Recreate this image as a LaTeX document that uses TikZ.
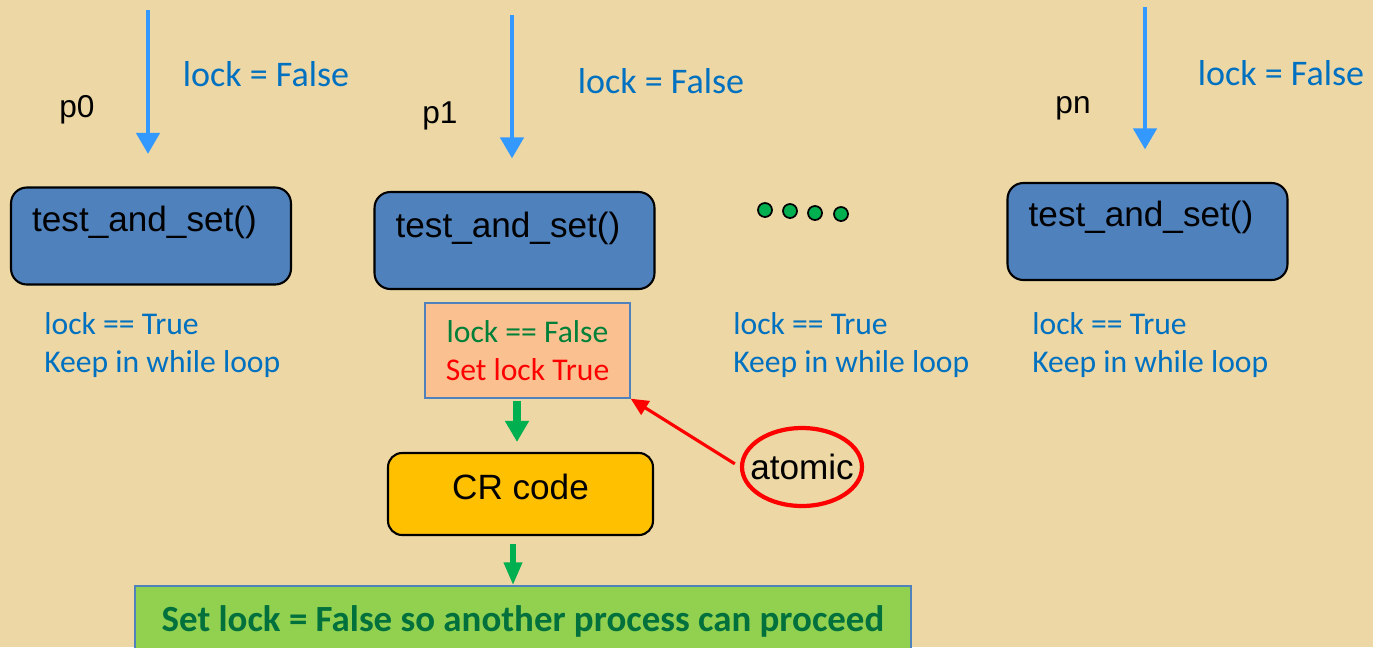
\documentclass[tikz,border=0pt]{standalone}
\usepackage{fontspec}
\setmainfont{Liberation Sans}
\newfontfamily\calib{Carlito}
\usetikzlibrary{arrows.meta,shapes.geometric,positioning}

\definecolor{papyrus}{RGB}{236,215,165}
\definecolor{arrowblue}{RGB}{51,153,255}
\definecolor{txtblue}{RGB}{0,112,192}
\definecolor{boxblue}{RGB}{79,129,189}
\definecolor{salmon}{RGB}{250,192,144}
\definecolor{crgold}{RGB}{255,192,0}
\definecolor{limegreen}{RGB}{146,208,80}
\definecolor{dotgreen}{RGB}{0,176,80}
\definecolor{lockgreen}{RGB}{0,128,56}
\definecolor{deepgreen}{RGB}{0,112,60}

\begin{document}
\begin{tikzpicture}[x=0.02cm, y=-0.02cm,
    tasbox/.style={draw=black, line width=1.2pt, fill=boxblue, rounded corners=9pt,
                   minimum width=5.6cm, minimum height=1.94cm},
    tastext/.style={font=\fontsize{20}{24}\selectfont},
    locklabel/.style={text=txtblue, font=\calib\fontsize{20.5}{24}\selectfont},
    pname/.style={font=\fontsize{18}{22}\selectfont},
    waitlabel/.style={text=txtblue, font=\calib\fontsize{18}{21.5}\selectfont, align=left, anchor=west, inner sep=0pt},
    bluearrow/.style={draw=arrowblue, line width=2.8pt, -{Triangle[width=13pt,length=12pt]}, shorten >=0.65cm},
    greenarrow/.style={draw=dotgreen, line width=4pt, -{Triangle[width=13pt,length=12pt]}},
    dot/.style={circle, draw=black, line width=1pt, fill=dotgreen, minimum size=0.28cm, inner sep=0pt}]

    % Background
    \fill[papyrus] (0,0) rectangle (1373,647);
    \useasboundingbox (0,0) rectangle (1373,647);

    % Process p0
    \coordinate (s0) at (148,10);
    \node[tasbox] (b0) at (151,236) {};
    \node[tastext] (t0) at ([xshift=-0.13cm, yshift=0.28cm]b0.center) {test\_and\_set()};
    \draw[bluearrow] (s0) -- (s0 |- b0.north);
    \node[locklabel] (l0) at (266,74) {lock = False};
    \node[pname] (p0) at (77,110) {p0};
    \node[waitlabel] (w0) at (44,345) {lock == True\\Keep in while loop};

    % Process p1
    \coordinate (s1) at (512,15);
    \node[tasbox] (b1) at (514.5,240.5) {};
    \node[tastext] (t1) at ([xshift=-0.13cm, yshift=0.25cm]b1.center) {test\_and\_set()};
    \draw[bluearrow] (s1) -- (s1 |- b1.north);
    \node[locklabel] (l1) at (661,81) {lock = False};
    \node[pname] (p1) at (440,116) {p1};

    % Process pn
    \coordinate (sn) at (1145,7);
    \node[tasbox] (bn) at (1147.5,231.5) {};
    \node[tastext] (tn) at ([xshift=-0.13cm, yshift=0.29cm]bn.center) {test\_and\_set()};
    \draw[bluearrow] (sn) -- (sn |- bn.north);
    \node[locklabel] (ln) at (1281,73) {lock = False};
    \node[pname] (pn) at (1073,108) {pn};
    \node[waitlabel] (wn) at (1032,345) {lock == True\\Keep in while loop};

    % The ones in between
    \foreach \i/\x/\y in {1/765/210, 2/790/211, 3/815/213, 4/841/214}
        \node[dot] (d\i) at (\x,\y) {};
    \node[waitlabel] (wm) at (733,345) {lock == True\\Keep in while loop};

    % p1 gets the lock
    \node[draw=boxblue, line width=0.8pt, fill=salmon, minimum width=4.1cm, minimum height=1.9cm,
          align=center, font=\calib\fontsize{18}{21.5}\selectfont] (sal) at (527.5,350.5)
          {\textcolor{lockgreen}{lock == False}\\\textcolor{red}{Set lock True}};
    \node[draw=black, line width=1.2pt, fill=crgold, rounded corners=8pt, minimum width=5.3cm,
          minimum height=1.64cm, font=\fontsize{20}{24}\selectfont] (cr) at (520.5,494) {};
    \node[font=\fontsize{20}{24}\selectfont] (crt) at ([yshift=0.14cm]cr.center) {CR code};
    \node[draw=boxblue, line width=1pt, fill=limegreen, minimum width=15.52cm, minimum height=1.4cm,
          text=deepgreen, font=\calib\bfseries\fontsize{21}{25}\selectfont] (rel) at (523,621)
          {Set lock = False so another process can proceed};
    \draw[greenarrow, shorten <=0.04cm, shorten >=0.2cm] ([xshift=-0.21cm]sal.south) -- ([xshift=-0.21cm]sal.south |- cr.north);
    \draw[greenarrow, line width=3pt, -{Triangle[width=10pt,length=13pt]}, shorten <=0.16cm]
        ([xshift=-0.15cm]cr.south) -- ([xshift=-0.15cm]cr.south |- rel.north);

    % Atomic note
    \node[ellipse, draw=red, line width=2.4pt, minimum width=2.4cm, minimum height=1.56cm,
          inner xsep=-8pt, inner ysep=0pt, font=\fontsize{20}{24}\selectfont] (atom) at (802,467) {atomic};
    \draw[red, line width=1.8pt, -{Triangle[width=9pt,length=10pt]}, shorten <=0.12cm] (atom.west) -- (sal.south east);
\end{tikzpicture}
\end{document}
